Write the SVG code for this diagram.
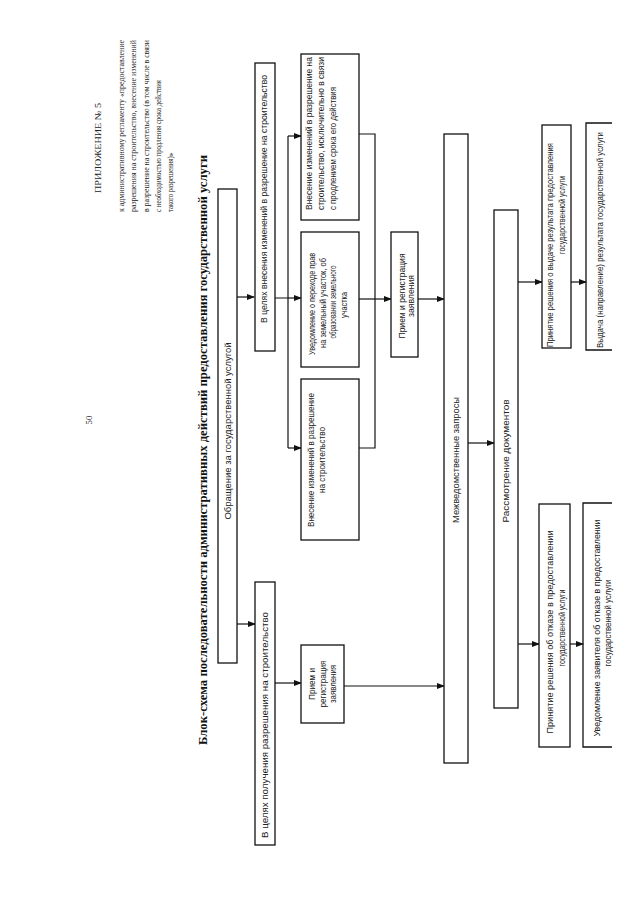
<svg xmlns="http://www.w3.org/2000/svg" width="639" height="905" viewBox="0 0 639 905">
<defs>
<marker id="ah" markerWidth="8" markerHeight="6" refX="7" refY="3" orient="auto" markerUnits="userSpaceOnUse">
<path d="M0,0 L8,3 L0,6 Z" fill="#111"/>
</marker>
<style>
.bx{fill:#fff;stroke:#111;stroke-width:1.3}
.ob{fill:none;stroke:#111;stroke-width:1.3}
.t{font-family:"Liberation Sans",Arial,sans-serif;font-size:8.5px;fill:#222;text-anchor:middle}
.ts{font-family:"Liberation Sans",Arial,sans-serif;font-size:8.5px;fill:#222;text-anchor:start}
.h{font-family:"Liberation Serif","Times New Roman",serif;font-size:8.8px;fill:#222}
.hb{font-family:"Liberation Serif","Times New Roman",serif;font-size:12px;font-weight:bold;fill:#111;text-anchor:middle}
.c{fill:none;stroke:#111;stroke-width:1.2}
.ca{fill:none;stroke:#111;stroke-width:1.2;marker-end:url(#ah)}
</style>
</defs>
<rect width="639" height="905" fill="#fff"/>

<g id="header">
<text class="h" transform="translate(92,420) rotate(-90)" text-anchor="middle" font-size="12">50</text>
<text class="h" transform="translate(101,148) rotate(-90)" text-anchor="middle" font-size="10.5" textLength="90" lengthAdjust="spacingAndGlyphs">ПРИЛОЖЕНИЕ № 5</text>
<text class="h" transform="translate(124,212) rotate(-90)" textLength="172" lengthAdjust="spacingAndGlyphs">к административному регламенту «предоставление</text>
<text class="h" transform="translate(136,212) rotate(-90)" textLength="172" lengthAdjust="spacingAndGlyphs">разрешения на строительство, внесение изменений</text>
<text class="h" transform="translate(149,212) rotate(-90)" textLength="172" lengthAdjust="spacingAndGlyphs">в разрешение на строительство (в том числе в связи</text>
<text class="h" transform="translate(161,212) rotate(-90)" textLength="132" lengthAdjust="spacingAndGlyphs">с необходимостью продления срока действия</text>
<text class="h" transform="translate(173,212) rotate(-90)" textLength="59" lengthAdjust="spacingAndGlyphs">такого разрешения)»</text>
<text class="hb" transform="translate(207,450) rotate(-90)" textLength="590" lengthAdjust="spacingAndGlyphs">Блок-схема последовательности административных действий предоставления государственной услуги</text>
</g>

<g id="connectors">
<path class="ca" d="M237,297 H254"/>
<path class="ca" d="M237,624 H255"/>
<path class="c" d="M275,298 H288 M288,136 V448"/>
<path class="ca" d="M288,136 H301"/>
<path class="ca" d="M288,298 H301"/>
<path class="ca" d="M288,448 H301"/>
<path class="c" d="M359,134 H375 V448 H359"/>
<path class="ca" d="M359,299 H391"/>
<path class="ca" d="M418,299 H444"/>
<path class="ca" d="M275,683 H301"/>
<path class="ca" d="M344,686 H444"/>
<path class="ca" d="M468,443 H494"/>
<path class="ca" d="M518,282 H542"/>
<path class="ca" d="M571,282 H586"/>
<path class="ca" d="M518,644 H539"/>
<path class="ca" d="M570,644 H583"/>
</g>

<g id="n_obr">
<rect class="bx" x="218" y="189" width="19" height="474"/>
<text class="t" transform="translate(231,431) rotate(-90)" textLength="177" lengthAdjust="spacingAndGlyphs">Обращение за государственной услугой</text>
</g>
<g id="n_izm">
<rect class="bx" x="255" y="63" width="20" height="288"/>
<text class="t" transform="translate(267,199) rotate(-90)" textLength="248" lengthAdjust="spacingAndGlyphs">В целях внесения изменений в разрешение на строительство</text>
</g>
<g id="n_pol">
<rect class="bx" x="255" y="582" width="20" height="263"/>
<text class="t" transform="translate(268,725) rotate(-90)" textLength="226" lengthAdjust="spacingAndGlyphs">В целях получения разрешения на строительство</text>
</g>
<g id="n_prodl">
<rect class="bx" x="301" y="54" width="58" height="166"/>
<text class="ts" transform="translate(312,210) rotate(-90)" textLength="153" lengthAdjust="spacingAndGlyphs">Внесение изменений в разрешение на</text>
<text class="ts" transform="translate(324,210) rotate(-90)" textLength="153" lengthAdjust="spacingAndGlyphs">строительство, исключительно в связи</text>
<text class="ts" transform="translate(336,210) rotate(-90)" textLength="123" lengthAdjust="spacingAndGlyphs">с продлением срока его действия</text>
</g>
<g id="n_uved">
<rect class="bx" x="301" y="232" width="58" height="135"/>
<text class="t" transform="translate(315,304) rotate(-90)" textLength="102" lengthAdjust="spacingAndGlyphs">Уведомление о переходе прав</text>
<text class="t" transform="translate(326,303) rotate(-90)" textLength="90" lengthAdjust="spacingAndGlyphs">на земельный участок, об</text>
<text class="t" transform="translate(336,302) rotate(-90)" textLength="73" lengthAdjust="spacingAndGlyphs">образовании земельного</text>
<text class="t" transform="translate(347,305) rotate(-90)" textLength="26" lengthAdjust="spacingAndGlyphs">участка</text>
</g>
<g id="n_vnes">
<rect class="bx" x="301" y="379" width="58" height="161"/>
<text class="t" transform="translate(314,460) rotate(-90)" textLength="134" lengthAdjust="spacingAndGlyphs">Внесение изменений в разрешение</text>
<text class="t" transform="translate(325,460) rotate(-90)" textLength="66" lengthAdjust="spacingAndGlyphs">на строительство</text>
</g>
<g id="n_priem1">
<rect class="bx" x="391" y="232" width="27" height="125"/>
<text class="t" transform="translate(405,296) rotate(-90)" textLength="85" lengthAdjust="spacingAndGlyphs">Прием и регистрация</text>
<text class="t" transform="translate(414,296) rotate(-90)" font-size="7" textLength="42" lengthAdjust="spacingAndGlyphs">заявления</text>
</g>
<g id="n_priem2">
<rect class="bx" x="301" y="645" width="43" height="78"/>
<text class="t" transform="translate(315,684) rotate(-90)" textLength="32" lengthAdjust="spacingAndGlyphs">Прием и</text>
<text class="t" transform="translate(326,684) rotate(-90)" textLength="47" lengthAdjust="spacingAndGlyphs">регистрация</text>
<text class="t" transform="translate(336,684) rotate(-90)" textLength="38" lengthAdjust="spacingAndGlyphs">заявления</text>
</g>
<g id="n_mezh">
<rect class="bx" x="444" y="134" width="24" height="629"/>
<text class="t" transform="translate(459,460) rotate(-90)" font-size="9.5" textLength="126" lengthAdjust="spacingAndGlyphs">Межведомственные запросы</text>
</g>
<g id="n_rassm">
<rect class="bx" x="494" y="210" width="24" height="498"/>
<text class="t" transform="translate(509,461) rotate(-90)" font-size="9.5" textLength="123" lengthAdjust="spacingAndGlyphs">Рассмотрение документов</text>
</g>
<g id="n_vyd_resh">
<rect class="bx" x="542" y="125" width="29" height="223"/>
<text class="t" transform="translate(553,245) rotate(-90)" textLength="204" lengthAdjust="spacingAndGlyphs">Принятие решения о выдаче результата предоставления</text>
<text class="t" transform="translate(565,215) rotate(-90)" textLength="78" lengthAdjust="spacingAndGlyphs">государственной услуги</text>
</g>
<g id="n_vydacha">
<path class="ob" d="M612,123 H586 V350 H612"/>
<text class="t" transform="translate(603,240) rotate(-90)" textLength="216" lengthAdjust="spacingAndGlyphs">Выдача (направление) результата государственной услуги</text>
</g>
<g id="n_otk_resh">
<rect class="bx" x="539" y="504" width="31" height="243"/>
<text class="t" transform="translate(553,632) rotate(-90)" font-size="9" textLength="203" lengthAdjust="spacingAndGlyphs">Принятие решения об отказе в предоставлении</text>
<text class="t" transform="translate(565,628) rotate(-90)" font-size="9" textLength="77" lengthAdjust="spacingAndGlyphs">государственной услуги</text>
</g>
<g id="n_otk_uv">
<path class="ob" d="M612,503 H583 V747 H612"/>
<text class="t" transform="translate(600,628) rotate(-90)" textLength="217" lengthAdjust="spacingAndGlyphs">Уведомление заявителя об отказе в предоставлении</text>
<text class="t" transform="translate(611,623) rotate(-90)" textLength="87" lengthAdjust="spacingAndGlyphs">государственной услуги</text>
</g>
</svg>
